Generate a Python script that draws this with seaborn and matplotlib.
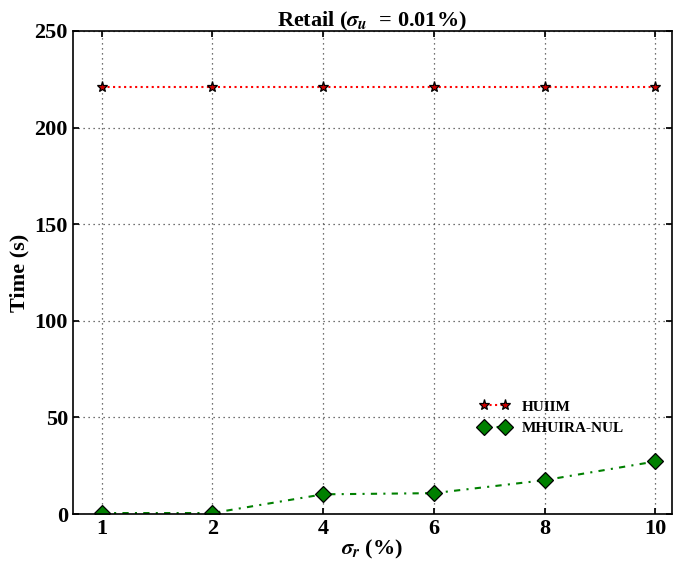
import matplotlib
matplotlib.use("Agg")
import matplotlib.pyplot as plt
import seaborn as sns
import pandas as pd

categories = ["1", "2", "4", "6", "8", "10"]
huiim = [221, 221, 221, 221, 221, 221]
mhuira = [0.5, 0.5, 10.2, 10.8, 17.5, 27.2]

sns.set_theme(style="ticks")
plt.rcParams['font.family'] = ['Liberation Serif', 'DejaVu Serif']
plt.rcParams['mathtext.fontset'] = 'stix'
plt.rcParams['font.weight'] = 'bold'
for k in ['text.color', 'axes.labelcolor', 'xtick.color', 'ytick.color', 'axes.edgecolor']:
    plt.rcParams[k] = 'black'

df = pd.concat([
    pd.DataFrame({"x": categories, "y": huiim, "method": "HUIIM"}),
    pd.DataFrame({"x": categories, "y": mhuira, "method": "MHUIRA-NUL"}),
])

fig = plt.figure(figsize=(6.74, 5.63), dpi=100)
ax = fig.add_axes([0.108, 0.087, 0.889, 0.858])

sns.lineplot(data=df[df.method == "HUIIM"], x="x", y="y", ax=ax, sort=False,
             color="red", linestyle=":", linewidth=1.5, marker="*", markersize=8,
             markerfacecolor="#cc0000", markeredgecolor="black", markeredgewidth=0.9,
             label="HUIIM")
sns.lineplot(data=df[df.method == "MHUIRA-NUL"], x="x", y="y", ax=ax, sort=False,
             color="green", linestyle=(0, (3, 3, 1, 3)), linewidth=1.5, marker="D", markersize=8,
             markerfacecolor="green", markeredgecolor="black", markeredgewidth=0.9,
             label="MHUIRA-NUL")

ax.set_xlim(-0.26, 5.15)
ax.set_ylim(0, 250)
ax.set_yticks([0, 50, 100, 150, 200, 250])
ax.grid(True, linestyle=(0, (1, 3)), color="#444444", linewidth=0.9)
ax.tick_params(direction="in", top=True, right=True, labelsize=16, length=4, color="black")
for lab in ax.get_xticklabels() + ax.get_yticklabels():
    lab.set_fontweight("bold")
for s in ax.spines.values():
    s.set_color("black")
    s.set_linewidth(1.2)

ax.set_xlabel(r"$\sigma_r$ (%)", fontsize=16, fontweight="bold", labelpad=-1)
ax.set_ylabel("Time (s)", fontsize=16, fontweight="bold", labelpad=4)
ax.set_title(r"Retail ($\sigma_u\ $ = 0.01%)", fontsize=16, fontweight="bold", pad=3)

leg = ax.legend(loc="center left", bbox_to_anchor=(0.655, 0.2), frameon=False,
                prop={"weight": "bold", "size": 11}, handlelength=2.0, numpoints=2)

fig.savefig("out.png", dpi=100)
